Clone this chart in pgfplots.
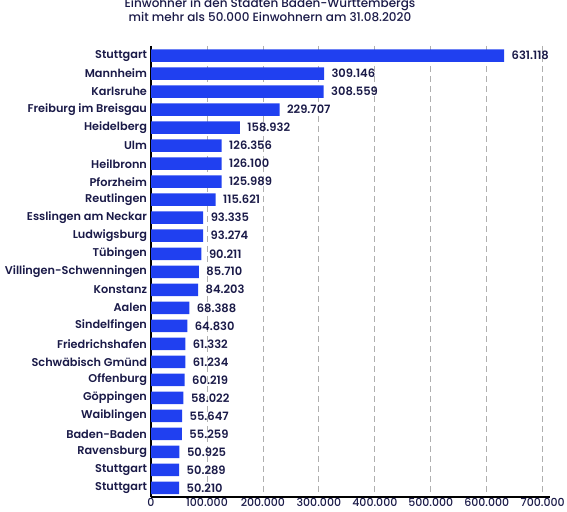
\documentclass[border=0pt]{standalone}
\usepackage{pgfplots}
\pgfplotsset{compat=1.18}
\usepackage{pgfplotstable}
\usepackage{fontspec}
\setmainfont{Poppins Medium}[BoldFont={Poppins SemiBold}]
\definecolor{navy}{RGB}{26,26,72}
\definecolor{barblue}{RGB}{32,64,240}
\definecolor{gridgray}{RGB}{175,175,175}
\pgfplotstableread{
y val
0 631118
1 309146
2 308559
3 229707
4 158932
5 126356
6 126100
7 125989
8 115621
9 93335
10 93274
11 90211
12 85710
13 84203
14 68388
15 64830
16 61332
17 61234
18 60219
19 58022
20 55647
21 55259
22 50925
23 50289
24 50210
}\datatable
\begin{document}
\begin{tikzpicture}
\useasboundingbox (0,0) rectangle (567pt,511pt);
\node[text=navy, font=\fontsize{12}{14}\selectfont, align=center, anchor=north] at (270pt,516pt)
  {Einwohner in den Städten Baden-Württembergs\\mit mehr als 50.000 Einwohnern am 31.08.2020};
\begin{axis}[
  at={(151pt,14pt)}, anchor=south west,
  scale only axis, width=399pt, height=451pt,
  xbar, bar width=12.5pt,
  xmin=0, xmax=713000,
  ymin=-0.53, ymax=24.5, y dir=reverse,
  axis x line*=bottom, axis y line*=left,
  axis line style={black, line width=2pt},
  xtick={0,100000,...,700000},
  scaled x ticks=false,
  /pgf/number format/.cd, fixed, precision=0, 1000 sep={.}, assume math mode=true, /pgfplots/.cd,
  ytick={0,...,24},
  yticklabels={Stuttgart,Mannheim,Karlsruhe,Freiburg im Breisgau,Heidelberg,Ulm,Heilbronn,Pforzheim,Reutlingen,Esslingen am Neckar,Ludwigsburg,Tübingen,Villingen-Schwenningen,Konstanz,Aalen,Sindelfingen,Friedrichshafen,Schwäbisch Gmünd,Offenburg,Göppingen,Waiblingen,Baden-Baden,Ravensburg,Stuttgart,Stuttgart},
  major tick length=0pt,
  xticklabel style={text=navy, font=\fontsize{11}{12}\selectfont, yshift=2pt},
  yticklabel style={text=navy, font=\bfseries\fontsize{11.3}{12}\selectfont, xshift=-0.5pt},
  xmajorgrids, grid style={gridgray, dash pattern=on 6pt off 4pt, line width=0.8pt},
  nodes near coords={\pgfmathprintnumber[fixed,precision=0,1000 sep={.}]{\pgfplotspointmeta}},
  point meta=x,
  every node near coord/.append style={text=navy, font=\bfseries\fontsize{11.5}{13}\selectfont, anchor=west, xshift=4pt},
  clip=false,
]
\addplot[fill=barblue, draw=none] table[x=val, y=y] {\datatable};
\end{axis}
\end{tikzpicture}
\end{document}
